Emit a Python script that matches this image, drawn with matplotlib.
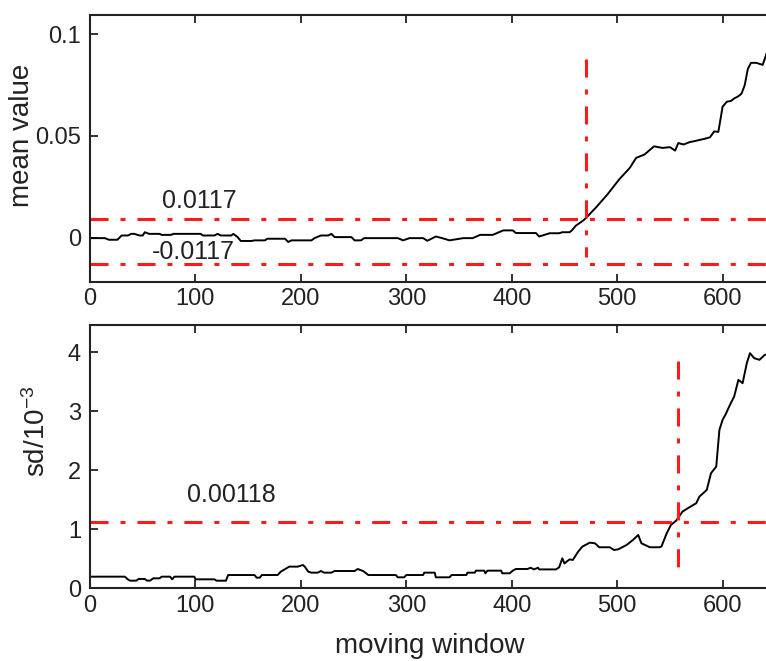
import matplotlib
matplotlib.use("Agg")
import matplotlib.pyplot as plt

plt.rcParams['font.family'] = ['Liberation Sans', 'DejaVu Sans']
plt.rcParams['mathtext.fontset'] = 'custom'
plt.rcParams['mathtext.rm'] = 'Liberation Sans'
plt.rcParams['mathtext.default'] = 'regular'
plt.rcParams['lines.scale_dashes'] = False

# ---------------- data ----------------
mean_x = [0, 4, 14, 18, 26, 30, 36, 39, 42, 47, 50, 52, 56, 66, 68, 77, 79, 105, 107,
          118, 121, 124, 134, 136, 140, 143, 153, 156, 166, 168, 185, 188, 191, 210,
          213, 219, 226, 229, 232, 248, 251, 257, 260, 275, 292, 297, 303, 316, 320,
          328, 334, 341, 354, 363, 370, 382, 392, 401, 404, 423, 426, 436, 445, 448,
          455, 457, 461, 468, 471, 480, 491, 502, 512, 518, 526, 535, 543, 550, 555,
          558, 563, 569, 573, 578, 583, 588, 592, 596, 600, 604, 608, 611, 615, 618,
          621, 624, 627, 632, 638, 640, 642]
mean_v = [-0.0002, -0.0002, -0.0002, -0.0010, -0.0010, 0.0011, 0.0011, 0.0019, 0.0019,
          0.0011, 0.0011, 0.0027, 0.0019, 0.0019, 0.0014, 0.0014, 0.0019, 0.0019, 0.0011,
          0.0011, 0.0019, 0.0011, 0.0011, 0.0019, 0.0003, -0.0016, -0.0016, -0.0013,
          -0.0013, -0.0005, -0.0005, -0.0021, -0.0013, -0.0013, -0.0002, 0.0011, 0.0011,
          0.0019, 0.0003, 0.0003, -0.0013, -0.0013, -0.0002, -0.0002, -0.0002, -0.0013,
          -0.0002, -0.0002, -0.0015, 0.0006, -0.0002, -0.0013, -0.0002, -0.0002, 0.0014,
          0.0014, 0.0036, 0.0036, 0.0023, 0.0023, 0.0006, 0.0022, 0.0022, 0.0027, 0.0027,
          0.0036, 0.0060, 0.0085, 0.0100, 0.0149, 0.0214, 0.0287, 0.0343, 0.0392, 0.0409,
          0.0449, 0.0441, 0.0445, 0.0428, 0.0465, 0.0458, 0.0470, 0.0474, 0.0480, 0.0486,
          0.0493, 0.0522, 0.0520, 0.0643, 0.0668, 0.0672, 0.0684, 0.0695, 0.0708, 0.0749,
          0.0830, 0.0859, 0.0859, 0.0849, 0.0878, 0.0910]

sd_x = [0, 33, 36, 38, 44, 46, 52, 54, 57, 60, 66, 68, 76, 78, 80, 99, 100, 118, 120,
        129, 131, 156, 158, 161, 163, 178, 181, 189, 197, 202, 204, 207, 210, 216, 219,
        222, 229, 232, 251, 254, 259, 264, 290, 292, 298, 300, 316, 317, 327, 328, 341,
        343, 357, 358, 365, 366, 374, 375, 377, 390, 391, 398, 401, 404, 415, 418, 421,
        425, 426, 442, 445, 448, 450, 452, 455, 458, 463, 467, 474, 479, 483, 493, 497,
        501, 509, 515, 520, 523, 531, 540, 542, 547, 551, 556, 562, 567, 575, 578, 585,
        589, 594, 597, 600, 603, 607, 611, 615, 619, 623, 626, 630, 635, 640, 642]
sd_v = [0.197, 0.197, 0.150, 0.129, 0.130, 0.158, 0.158, 0.130, 0.130, 0.169, 0.169,
        0.197, 0.197, 0.152, 0.197, 0.197, 0.152, 0.152, 0.129, 0.129, 0.225, 0.225,
        0.180, 0.180, 0.225, 0.225, 0.282, 0.367, 0.367, 0.395, 0.360, 0.282, 0.265,
        0.265, 0.293, 0.265, 0.265, 0.293, 0.293, 0.327, 0.293, 0.225, 0.225, 0.186,
        0.186, 0.225, 0.225, 0.265, 0.265, 0.186, 0.186, 0.225, 0.225, 0.265, 0.265,
        0.299, 0.299, 0.254, 0.299, 0.299, 0.254, 0.254, 0.299, 0.327, 0.327, 0.349,
        0.320, 0.349, 0.320, 0.320, 0.355, 0.508, 0.420, 0.451, 0.490, 0.480, 0.621,
        0.706, 0.773, 0.762, 0.695, 0.695, 0.649, 0.660, 0.734, 0.819, 0.903, 0.763,
        0.695, 0.695, 0.706, 0.932, 1.073, 1.146, 1.299, 1.356, 1.441, 1.553, 1.666,
        1.949, 2.062, 2.683, 2.853, 2.950, 3.107, 3.248, 3.531, 3.475, 3.814, 3.983,
        3.898, 3.870, 3.954, 3.960]

mean_upper = 0.0093
mean_lower = -0.0130
mean_change_x = 470
mean_vline = [0.088, -0.0095]
sd_threshold = 1.13
sd_change_x = 557.6
sd_vline = [3.85, 0.33]

mean_labels = ["0.0117", "-0.0117"]
sd_label = "0.00118"
x_ticks = [0, 100, 200, 300, 400, 500, 600, 700]
x_ticklabels = ["0", "100", "200", "300", "400", "500", "600", ""]
mean_yticks = [0, 0.05, 0.1]
mean_yticklabels = ["0", "0.05", "0.1"]
sd_yticks = [0, 1, 2, 3, 4]

# ---------------- figure ----------------
W, H = 766, 661
fig = plt.figure(figsize=(W / 100, H / 100), dpi=100)

ax1 = fig.add_axes([90 / W, 1 - 281.7 / H, 738 / W, 266.7 / H])
ax2 = fig.add_axes([90 / W, 1 - 588.3 / H, 738 / W, 263.3 / H])

red = '#ff1a1a'
dd = (0, (13, 8.6, 3.6, 8.6))
txtc = '#222222'

for ax in (ax1, ax2):
    ax.set_xlim(0, 700)
    ax.set_xticks(x_ticks)
    ax.set_xticklabels(x_ticklabels)
    ax.tick_params(direction='in', length=5.8, width=1.3, top=True, right=True,
                   labelsize=17, labelcolor=txtc, color='#222222')
    ax.tick_params(axis='x', pad=4.5)
    ax.tick_params(axis='y', pad=6.5)
    for s in ax.spines.values():
        s.set_linewidth(1.5)
        s.set_color('#222222')

# top panel
ax1.plot(mean_x, mean_v, color='black', lw=1.4)
ax1.plot([0, 700], [mean_upper, mean_upper], color=red, lw=2.2, linestyle=dd)
ax1.plot([0, 700], [mean_lower, mean_lower], color=red, lw=2.2, linestyle=dd)
ax1.plot([mean_change_x, mean_change_x], mean_vline, color=red, lw=2.2, linestyle=dd)
ax1.set_ylim(-0.0216, 0.1094)
ax1.set_yticks(mean_yticks)
ax1.set_yticklabels(mean_yticklabels)
ax1.text(104, 0.0181, mean_labels[0], fontsize=18, color=txtc, ha='center', va='center')
ax1.text(98, -0.0072, mean_labels[1], fontsize=18, color=txtc, ha='center', va='center')

# bottom panel
ax2.plot(sd_x, sd_v, color='black', lw=1.4)
ax2.plot([0, 700], [sd_threshold, sd_threshold], color=red, lw=2.2, linestyle=dd)
ax2.plot([sd_change_x, sd_change_x], sd_vline, color=red, lw=2.2, linestyle=dd)
ax2.set_ylim(0, 4.46)
ax2.set_yticks(sd_yticks)
ax2.text(134.5, 1.58, sd_label, fontsize=18, color=txtc, ha='center', va='center')

# axis labels
fig.text(22 / W, 1 - 135 / H, "mean value", rotation=90, fontsize=20, color=txtc,
         ha='center', va='center')
fig.text(37 / W, 1 - 431 / H, r"sd/10$^{-3}$", rotation=90, fontsize=20, color=txtc,
         ha='center', va='center')
fig.text(430 / W, 1 - 646 / H, "moving window", fontsize=20, color=txtc,
         ha='center', va='center')

fig.savefig("out.png", dpi=100)
